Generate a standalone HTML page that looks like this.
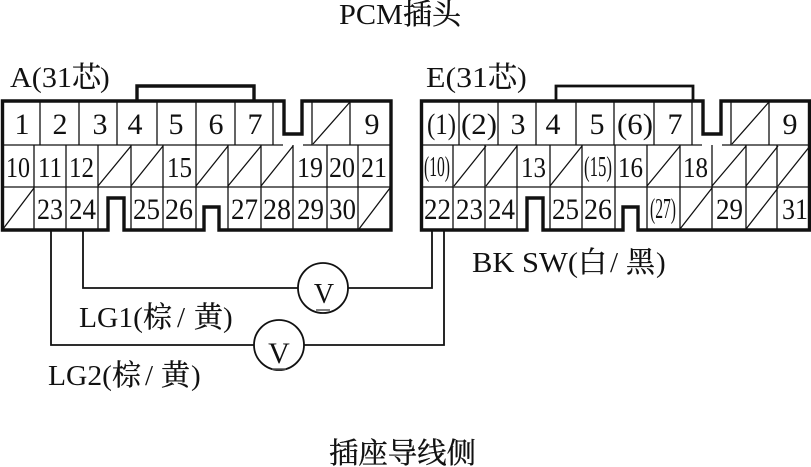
<!DOCTYPE html>
<html><head><meta charset="utf-8">
<style>
html,body{margin:0;padding:0;background:#fff;width:811px;height:467px;overflow:hidden}
svg{display:block}
text{font-family:"Liberation Serif","Noto Serif CJK SC",serif;fill:#111}
.a{font-size:30px;text-anchor:middle}
.b{font-size:28px}
.c{font-size:30px}
.l{font-size:29px}
.h{font-size:29px;stroke:#111;stroke-width:.35}
</style></head>
<body>
<svg width="811" height="467" viewBox="0 0 811 467" xmlns="http://www.w3.org/2000/svg">
<rect width="811" height="467" fill="#fff"/>

<!-- thin lines A -->
<g stroke="#111" stroke-width="1.3" fill="none">
<path d="M3 145H283M303 145H391M3 187H391"/>
<path d="M40 102V145M79 102V145M117 102V145M157 102V145M196 102V145M235 102V145M273 102V145M312 102V145M350 102V145"/>
<path d="M34 145V229M66 145V229M98 145V229M131 145V229M163 145V229M196 145V229M228 145V229M261 145V229M293 145V229M327 145V229M358 145V229"/>
<path d="M313 144L350 102M98 186L131 146M131 186L163 146M196 186L228 146M228 186L261 146M261 186L293 146M3 229L34 188M359 229L390 188"/>
</g>
<!-- thin lines E -->
<g stroke="#111" stroke-width="1.3" fill="none">
<path d="M422 145H702M722 145H809M422 187H809"/>
<path d="M459 102V145M498 102V145M536 102V145M576 102V145M614 102V145M654 102V145M692 102V145M731 102V145M769 102V145"/>
<path d="M453 145V229M485 145V229M517 145V229M550 145V229M582 145V229M615 145V229M647 145V229M680 145V229M712 145V229M746 145V229M777 145V229"/>
<path d="M732 144L769 102M454 186L486 146M486 186L517 146M550 186L582 146M647 186L680 146M712 186L746 146M746 186L778 146M778 186L810 146M680 229L712 188M746 229L778 188"/>
</g>

<!-- notches white cover -->
<rect x="284" y="100" width="18" height="34" fill="#fff"/>
<rect x="109" y="198" width="14" height="34" fill="#fff"/>
<rect x="205" y="207" width="14" height="25" fill="#fff"/>
<rect x="703" y="100" width="18" height="34" fill="#fff"/>
<rect x="528" y="198" width="14" height="34" fill="#fff"/>
<rect x="624" y="207" width="14" height="25" fill="#fff"/>

<!-- thick outlines -->
<g stroke="#111" stroke-width="3.4" fill="none">
<path d="M2.5 101H284V134H302V101H391V230H219V207H204V230H124V198H108V230H2.5Z"/>
<path d="M421.5 101H703V134H721V101H809.5V230H638V207H623V230H543V198H527V230H421.5Z"/>
<path d="M137 101V86H254V101"/>
<path d="M556 101V86H693V101" stroke-width="2.8"/>
</g>

<!-- wires -->
<g stroke="#111" stroke-width="1.8" fill="none">
<path d="M51 231V345H254M304 345H444V231"/>
<path d="M83 231V288H298M348 288H432V231"/>
<circle cx="323" cy="288" r="25"/>
<circle cx="279" cy="345" r="25"/>
</g>
<path d="M316 310H330M272 369H286" stroke="#555" stroke-width="1.5"/>
<text x="324" y="303" class="a" style="font-size:28px">V</text>
<text x="279" y="363" class="a" style="font-size:30px">V</text>

<!-- A row 1 -->
<text x="22" y="134" class="a">1</text><text x="60" y="134" class="a">2</text><text x="100" y="134" class="a">3</text><text x="135" y="134" class="a">4</text><text x="176" y="134" class="a">5</text><text x="216" y="134" class="a">6</text><text x="255" y="134" class="a">7</text><text x="372" y="134" class="a">9</text>
<!-- A row 2 -->
<text x="6" y="177" class="b" textLength="24" lengthAdjust="spacingAndGlyphs">10</text>
<text x="38" y="177" class="b" textLength="24" lengthAdjust="spacingAndGlyphs">11</text>
<text x="69" y="177" class="b" textLength="25" lengthAdjust="spacingAndGlyphs">12</text>
<text x="167" y="177" class="b" textLength="25" lengthAdjust="spacingAndGlyphs">15</text>
<text x="297" y="177" class="b" textLength="26" lengthAdjust="spacingAndGlyphs">19</text>
<text x="329" y="177" class="b" textLength="26" lengthAdjust="spacingAndGlyphs">20</text>
<text x="361" y="177" class="b" textLength="26" lengthAdjust="spacingAndGlyphs">21</text>
<!-- A row 3 -->
<text x="37" y="219" class="c" textLength="26" lengthAdjust="spacingAndGlyphs">23</text>
<text x="69" y="219" class="c" textLength="27" lengthAdjust="spacingAndGlyphs">24</text>
<text x="133" y="219" class="c" textLength="27" lengthAdjust="spacingAndGlyphs">25</text>
<text x="165" y="219" class="c" textLength="28" lengthAdjust="spacingAndGlyphs">26</text>
<text x="231" y="219" class="c" textLength="27" lengthAdjust="spacingAndGlyphs">27</text>
<text x="263" y="219" class="c" textLength="28" lengthAdjust="spacingAndGlyphs">28</text>
<text x="297" y="219" class="c" textLength="27" lengthAdjust="spacingAndGlyphs">29</text>
<text x="329" y="219" class="c" textLength="27" lengthAdjust="spacingAndGlyphs">30</text>

<!-- E row 1 -->
<text x="427" y="134" class="c" textLength="29" lengthAdjust="spacingAndGlyphs">(1)</text>
<text x="461" y="134" class="c" textLength="36" lengthAdjust="spacingAndGlyphs">(2)</text>
<text x="518" y="134" class="a">3</text><text x="553" y="134" class="a">4</text><text x="597" y="134" class="a">5</text>
<text x="617" y="134" class="c" textLength="36" lengthAdjust="spacingAndGlyphs">(6)</text>
<text x="675" y="134" class="a">7</text><text x="790" y="134" class="a">9</text>
<!-- E row 2 -->
<text x="424" y="176" class="b" textLength="26" lengthAdjust="spacingAndGlyphs">(10)</text>
<text x="521" y="177" class="b" textLength="25" lengthAdjust="spacingAndGlyphs">13</text>
<text x="584" y="176" class="b" textLength="28" lengthAdjust="spacingAndGlyphs">(15)</text>
<text x="618" y="177" class="b" textLength="25" lengthAdjust="spacingAndGlyphs">16</text>
<text x="683" y="177" class="b" textLength="25" lengthAdjust="spacingAndGlyphs">18</text>
<!-- E row 3 -->
<text x="424" y="219" class="c" textLength="27" lengthAdjust="spacingAndGlyphs">22</text>
<text x="456" y="219" class="c" textLength="27" lengthAdjust="spacingAndGlyphs">23</text>
<text x="488" y="219" class="c" textLength="27" lengthAdjust="spacingAndGlyphs">24</text>
<text x="552" y="219" class="c" textLength="27" lengthAdjust="spacingAndGlyphs">25</text>
<text x="584" y="219" class="c" textLength="28" lengthAdjust="spacingAndGlyphs">26</text>
<text x="650" y="218" class="b" textLength="26" lengthAdjust="spacingAndGlyphs">(27)</text>
<text x="716" y="219" class="c" textLength="27" lengthAdjust="spacingAndGlyphs">29</text>
<text x="782" y="219" class="c" textLength="26" lengthAdjust="spacingAndGlyphs">31</text>

<!-- labels -->
<text x="339" y="24" class="l" textLength="64" lengthAdjust="spacingAndGlyphs">PCM</text>
<text x="403" y="24" class="h">插头</text>

<text x="10" y="87" class="l" textLength="62" lengthAdjust="spacingAndGlyphs">A(31</text>
<text x="72" y="87" class="h">芯</text>
<text x="100" y="87" class="l">)</text>

<text x="426" y="87" class="l" textLength="62" lengthAdjust="spacingAndGlyphs">E(31</text>
<text x="488" y="87" class="h">芯</text>
<text x="517" y="87" class="l">)</text>

<text x="472" y="272" class="l" textLength="106" lengthAdjust="spacingAndGlyphs">BK SW(</text>
<text x="578" y="272" class="h">白</text>
<text x="610" y="272" class="l">/</text>
<text x="626" y="272" class="h">黑</text>
<text x="656" y="272" class="l">)</text>

<text x="79" y="327" class="l" textLength="64" lengthAdjust="spacingAndGlyphs">LG1(</text>
<text x="143" y="327" class="h">棕</text>
<text x="177" y="327" class="l">/</text>
<text x="194" y="327" class="h">黄</text>
<text x="223" y="327" class="l">)</text>

<text x="48" y="385" class="l" textLength="64" lengthAdjust="spacingAndGlyphs">LG2(</text>
<text x="112" y="385" class="h">棕</text>
<text x="145" y="385" class="l">/</text>
<text x="161" y="385" class="h">黄</text>
<text x="191" y="385" class="l">)</text>

<text x="329" y="463" class="h" textLength="147" lengthAdjust="spacingAndGlyphs">插座导线侧</text>
</svg>
</body></html>
